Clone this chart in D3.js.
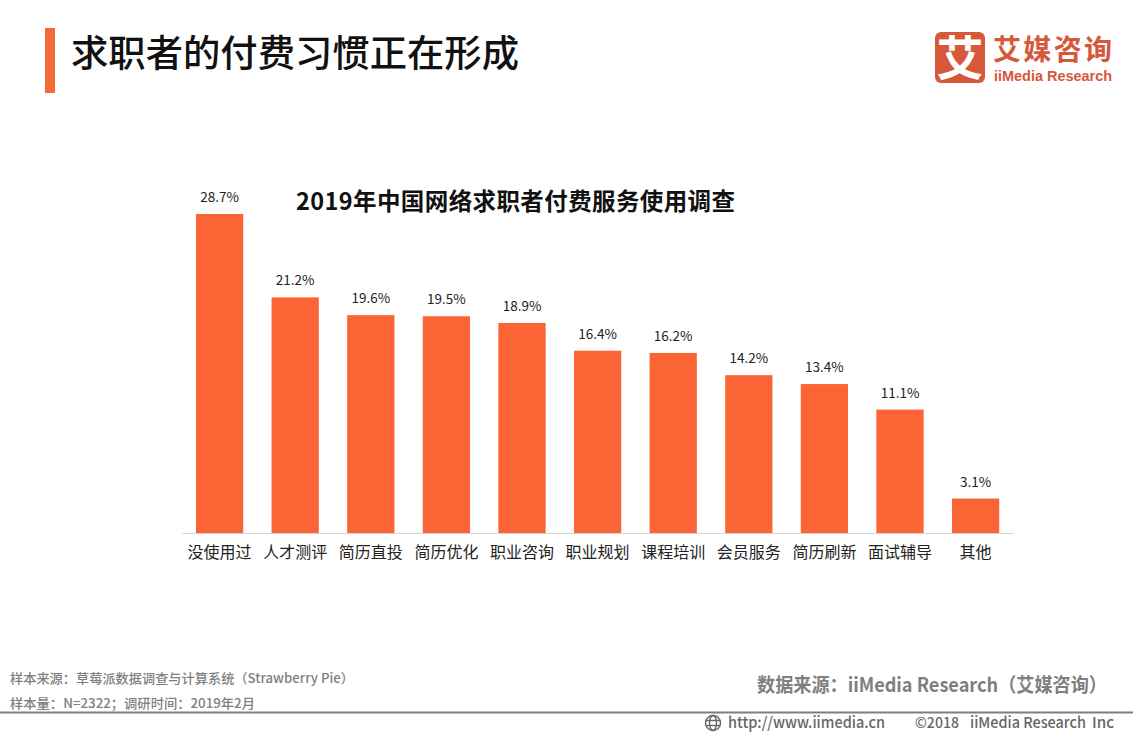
<!DOCTYPE html>
<html><head><meta charset="utf-8">
<script src="https://cdn.jsdelivr.net/npm/d3@7/dist/d3.min.js"></script>
<style>html,body{margin:0;padding:0;background:#fff;overflow:hidden}svg{display:block}text{font-family:"Noto Sans CJK SC","Noto Sans",sans-serif}</style>
</head><body><svg id="c" width="1133" height="737"></svg>
<script>
const categories=["没使用过","人才测评","简历直投","简历优化","职业咨询","职业规划","课程培训","会员服务","简历刷新","面试辅导","其他"];
const values=[28.7,21.2,19.6,19.5,18.9,16.4,16.2,14.2,13.4,11.1,3.1];
const pageTitle="求职者的付费习惯正在形成";
const chartTitle="2019年中国网络求职者付费服务使用调查";
const svg=d3.select("#c");
const x=d3.scaleBand().domain(categories).range([181.8,1013.4]).paddingInner(0.375).paddingOuter(0.1875);
const y=d3.scaleLinear().domain([0,28.7]).range([533,214]);
function t(s,px,py,size,fill,weight,anchor){return svg.append("text").attr("x",px).attr("y",py).attr("font-size",size).attr("fill",fill).attr("font-weight",weight||400).attr("text-anchor",anchor||"start").text(s);}
svg.append("rect").attr("x",45).attr("y",28).attr("width",10).attr("height",65).attr("fill","#f26a38");
t(pageTitle,71,67,37,"#111",500).attr("textLength",448).attr("lengthAdjust","spacingAndGlyphs");
// logo
svg.append("rect").attr("x",935).attr("y",32).attr("width",50).attr("height",51).attr("rx",6).attr("fill","#d6583a");
t("艾",960,75,47,"#fff",700,"middle");
t("艾媒咨询",993,60,28,"#d6583a",700).attr("textLength",119);
t("iiMedia Research",994,81,14.5,"#d6583a",700).attr("textLength",118).attr("lengthAdjust","spacingAndGlyphs").style("font-family",'"Liberation Sans"');
t(chartTitle,296,210,23.5,"#111",700).attr("textLength",439);
// bars
svg.append("g").selectAll("rect").data(values).join("rect")
 .attr("x",(d,i)=>x(categories[i])).attr("y",d=>y(d)).attr("width",x.bandwidth()).attr("height",d=>y(0)-y(d)).attr("fill","#fb6435");
svg.append("g").selectAll("text").data(values).join("text")
 .attr("x",(d,i)=>x(categories[i])+x.bandwidth()/2).attr("y",d=>y(d)-12).attr("text-anchor","middle").attr("font-size",13.5).attr("fill","#222").text(d=>d.toFixed(1)+"%");
// axis
const ax=svg.append("g").attr("transform","translate(0,533)").call(d3.axisBottom(x).tickSize(0).tickPadding(14));
ax.select(".domain").attr("stroke","#d4d4d4");
ax.selectAll("text").attr("font-size",16).attr("fill","#222").style("font-family",'"Noto Sans CJK SC"');
// footer
t("样本来源：草莓派数据调查与计算系统（Strawberry Pie）",10,683,13,"#7f7f7f",500).attr("textLength",344).attr("lengthAdjust","spacingAndGlyphs");
t("样本量：N=2322；调研时间：2019年2月",10,708,13,"#7f7f7f",500).attr("textLength",245).attr("lengthAdjust","spacingAndGlyphs");
t("数据来源：iiMedia Research（艾媒咨询）",757,692,19.5,"#7f7f7f",700).attr("textLength",350).attr("lengthAdjust","spacingAndGlyphs");
svg.append("rect").attr("x",0).attr("y",711.5).attr("width",1133).attr("height",2).attr("fill","#7f7f7f");
const g=svg.append("g").attr("fill","none").attr("stroke","#666").attr("stroke-width",1.4);
g.append("circle").attr("cx",713).attr("cy",723).attr("r",7.5);
g.append("ellipse").attr("cx",713).attr("cy",723).attr("rx",3.5).attr("ry",7.5);
g.append("line").attr("x1",705.5).attr("x2",720.5).attr("y1",720.5).attr("y2",720.5);
g.append("line").attr("x1",705.5).attr("x2",720.5).attr("y1",725.5).attr("y2",725.5);
t("http://www.iimedia.cn",728,728,15.5,"#666",500).attr("textLength",157).attr("lengthAdjust","spacingAndGlyphs");
t("©2018",915,728,14.5,"#666",500).attr("textLength",44).attr("lengthAdjust","spacingAndGlyphs");
t("iiMedia Research",970,728,15,"#666",500).attr("textLength",116).attr("lengthAdjust","spacingAndGlyphs");
t("Inc",1092,728,15,"#666",500).attr("textLength",22).attr("lengthAdjust","spacingAndGlyphs");
</script></body></html>
